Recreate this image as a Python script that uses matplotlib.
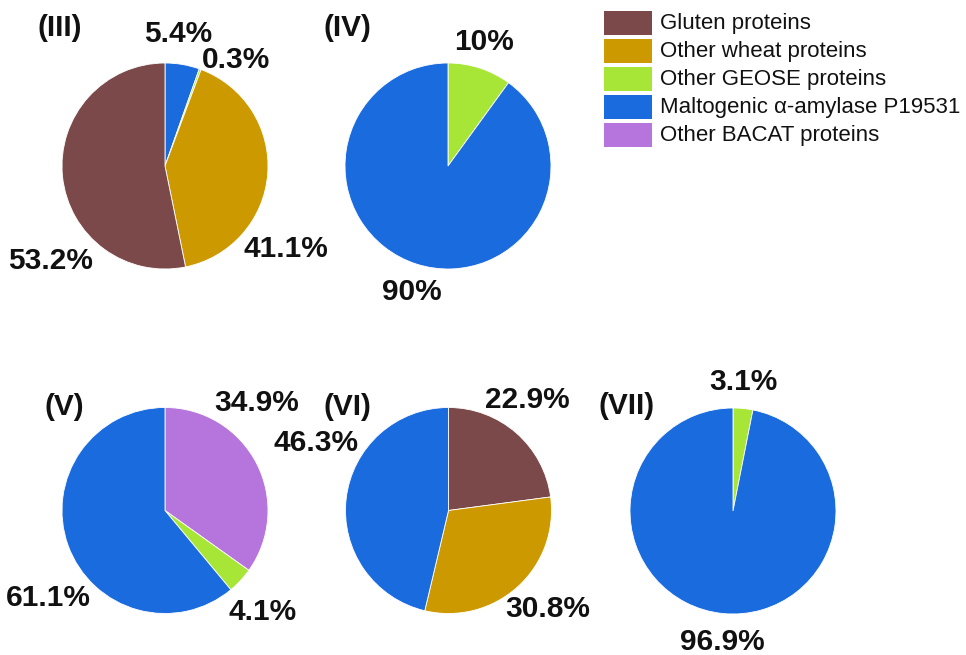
import matplotlib
matplotlib.use("Agg")
import matplotlib.pyplot as plt
from matplotlib.patches import Rectangle

plt.rcParams['font.family'] = ['Liberation Sans', 'DejaVu Sans']

# ---- data ----
categories = ["Gluten proteins", "Other wheat proteins", "Other GEOSE proteins",
              "Maltogenic α-amylase P19531", "Other BACAT proteins"]
colors = {"Gluten proteins": "#7B4949",
          "Other wheat proteins": "#CC9A00",
          "Other GEOSE proteins": "#A7E637",
          "Maltogenic α-amylase P19531": "#1A6BDE",
          "Other BACAT proteins": "#B575DC"}

panel_names = ["(III)", "(IV)", "(V)", "(VI)", "(VII)"]
# slices listed clockwise from 12 o'clock
III_cats = ["Maltogenic α-amylase P19531", "Other GEOSE proteins", "Other wheat proteins", "Gluten proteins"]
III_vals = [5.4, 0.3, 41.1, 53.2]
IV_cats = ["Other GEOSE proteins", "Maltogenic α-amylase P19531"]
IV_vals = [10, 90]
V_cats = ["Other BACAT proteins", "Other GEOSE proteins", "Maltogenic α-amylase P19531"]
V_vals = [34.9, 4.1, 61.1]
VI_cats = ["Gluten proteins", "Other wheat proteins", "Maltogenic α-amylase P19531"]
VI_vals = [22.9, 30.8, 46.3]
VII_cats = ["Other GEOSE proteins", "Maltogenic α-amylase P19531"]
VII_vals = [3.1, 96.9]

panels = [(III_cats, III_vals), (IV_cats, IV_vals), (V_cats, V_vals),
          (VI_cats, VI_vals), (VII_cats, VII_vals)]

# ---- layout (pixels) ----
W, H = 966, 655
centers = [(165, 166), (448, 166), (165, 510.5), (448.5, 510.5), (733, 511)]
radius = 103
title_pos = [(60, 28), (347, 28), (64, 407), (347, 407), (627, 406)]
label_pos = [
    [(178, 34), (236, 60), (286, 249), (51, 261)],
    [(484, 42), (412, 292)],
    [(257, 403), (263, 612), (48, 598)],
    [(527, 400), (548, 609), (316, 443)],
    [(743, 382), (722, 642)],
]

fig = plt.figure(figsize=(W / 100, H / 100), dpi=100)
fig.patch.set_facecolor("white")
ax = fig.add_axes([0, 0, 1, 1])

LBL = dict(fontsize=21.5, fontweight="bold", ha="center", va="center", color="#111111")

for (cats, vals), c, tpos, lpos, name in zip(panels, centers, title_pos, label_pos, panel_names):
    ax.pie(vals, colors=[colors[k] for k in cats], center=c, radius=radius,
           startangle=-90, counterclock=True, frame=True,
           wedgeprops=dict(edgecolor="white", linewidth=0.6))
    ax.text(tpos[0], tpos[1], name, **LBL)
    for v, p in zip(vals, lpos):
        ax.text(p[0], p[1], f"{v:g}%", **LBL)

# legend
for i, cat in enumerate(categories):
    y = 11 + i * 28
    ax.add_patch(Rectangle((604, y), 48, 24, facecolor=colors[cat], edgecolor="none"))
    ax.text(660, y + 12.5, cat, fontsize=16, ha="left", va="center", color="#111111")

ax.set_xlim(0, W)
ax.set_ylim(H, 0)
ax.set_aspect("equal")
ax.axis("off")

fig.savefig("out.png", dpi=100, facecolor="white")
